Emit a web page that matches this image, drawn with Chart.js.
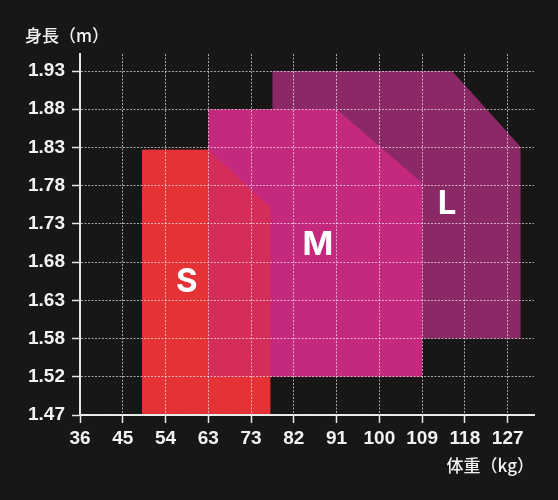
<!DOCTYPE html>
<html lang="ja">
<head>
<meta charset="utf-8">
<title>体重と身長のサイズ表</title>
<script src="https://cdn.jsdelivr.net/npm/chart.js@4/dist/chart.umd.min.js"></script>
<style>
  html, body { margin: 0; padding: 0; background: #181617; }
  #wrap { width: 558px; height: 500px; }
</style>
</head>
<body>
<div id="wrap"><canvas id="chart" width="558" height="500"></canvas></div>
<script>
// tick labels, one grid step apart
const weightLabels = ['36', '45', '54', '63', '73', '82', '91', '100', '109', '118', '127'];
const heightLabels = ['1.47', '1.52', '1.58', '1.63', '1.68', '1.73', '1.78', '1.83', '1.88', '1.93'];

// size outlines in grid steps, [weight, height]
const sizeS = [[1.45, 0], [1.45, 6.94], [3, 6.94], [4.45, 5.42], [4.45, 0]];
const sizeM = [[3, 1], [3, 8], [6, 8], [8, 6.07], [8, 1]];
const sizeL = [[4.5, 2], [4.5, 9], [8.7, 9], [10.3, 7.02], [10.3, 2]];

// size letters and where they sit
const sizeNames = ['S', 'M', 'L'];
const sizeLabelX = [2.5, 5.56, 8.58];
const sizeLabelY = [3.48, 4.45, 5.51];


const TEXT = '#f2f2f2';
const GRID = 'rgba(255, 255, 255, 0.62)';
const AXIS = '#e6e6e6';

const toPoints = shape => shape.map(([x, y]) => ({ x, y }));

const shapeDataset = (shape, color) => ({
  data: toPoints(shape),
  showLine: true,
  fill: 'shape',
  backgroundColor: color,
  borderWidth: 0,
  pointRadius: 0,
  pointHoverRadius: 0
});

// draws the S / M / L letters on top
const sizeLabelPlugin = {
  id: 'sizeLabels',
  afterDraw(chart) {
    const { ctx, scales: { x, y } } = chart;
    ctx.save();
    ctx.fillStyle = '#ffffff';
    ctx.font = 'bold 33px Inter, "Liberation Sans", sans-serif';
    ctx.textAlign = 'center';
    ctx.textBaseline = 'middle';
    sizeNames.forEach((name, i) => {
      ctx.fillText(name, x.getPixelForValue(sizeLabelX[i]), y.getPixelForValue(sizeLabelY[i]));
    });
    ctx.restore();
  }
};

const gridOpts = {
  z: 1,
  color: GRID,
  lineWidth: 1,
  tickColor: AXIS,
  tickLength: 8,
  tickWidth: 1.5
};
const borderOpts = { z: 1, color: AXIS, width: 2, dash: [2, 1.5] };

new Chart(document.getElementById('chart'), {
  type: 'scatter',
  data: {
    // first dataset is drawn last: S tints M, the last one is the solid S underneath
    datasets: [
      shapeDataset(sizeS, 'rgba(228, 50, 56, 0.52)'),
      shapeDataset(sizeM, '#c5297e'),
      shapeDataset(sizeL, '#8a2966'),
      shapeDataset(sizeS, '#e43238')
    ]
  },
  options: {
    responsive: false,
    animation: false,
    events: [],
    layout: { padding: { left: 25, right: 24, top: 0, bottom: 0 } },
    scales: {
      x: {
        type: 'linear',
        min: 0,
        max: 10.615,
        afterBuildTicks: axis => { axis.ticks = weightLabels.map((_, i) => ({ value: i })); },
        afterFit: axis => { axis.height = 40; },
        grid: gridOpts,
        border: borderOpts,
        ticks: {
          padding: 4,
          color: TEXT,
          autoSkip: false,
          maxRotation: 0,
          font: { family: '"Liberation Sans", Arial, sans-serif', size: 19, weight: 'bold' },
          callback: v => weightLabels[v]
        }
      },
      y: {
        type: 'linear',
        min: 0,
        max: 9.445,
        afterBuildTicks: axis => { axis.ticks = heightLabels.map((_, i) => ({ value: i })); },
        afterFit: axis => { axis.width = 55; },
        grid: gridOpts,
        border: borderOpts,
        ticks: {
          padding: 7,
          color: TEXT,
          autoSkip: false,
          font: { family: '"Liberation Sans", Arial, sans-serif', size: 19, weight: 'bold' },
          callback: v => heightLabels[v]
        }
      }
    },
    plugins: {
      legend: { display: false },
      tooltip: { enabled: false },
      title: {
        display: true,
        text: '身長（m）',
        align: 'start',
        color: TEXT,
        font: { family: '"Noto Sans CJK JP", sans-serif', size: 17, weight: 500 },
        padding: { top: 25.6, bottom: 8 }
      },
      subtitle: {
        display: true,
        position: 'bottom',
        text: '体重（kg）',
        align: 'end',
        color: TEXT,
        font: { family: '"Noto Sans CJK JP", sans-serif', size: 17, weight: 500 },
        padding: { top: 0, bottom: 24.6 }
      }
    }
  },
  plugins: [sizeLabelPlugin]
});
</script>
</body>
</html>
